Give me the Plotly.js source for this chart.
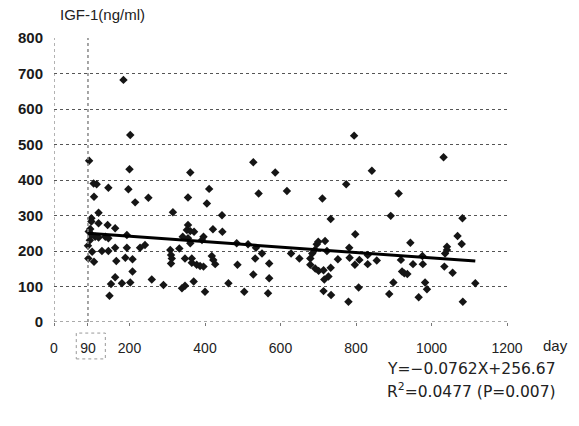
<!DOCTYPE html>
<html><head><meta charset="utf-8">
<script src="https://cdn.plot.ly/plotly-3.0.1.min.js"></script>
<style>html,body{margin:0;padding:0;background:#fff}</style>
</head><body><div id="chart" style="width:579px;height:426px"></div>
<script>
// Patient measurements: day after start vs IGF-1 (ng/ml)
const days = [
  93,105,113,106,118,99,99,118,100,109,118,101,91,106,127,96,92,95,90,
  144,197,215,250,142,162,136,144,193,144,162,193,228,241,165,189,208,208,162,151,180,202,259,147,184,202,200,
  290,361,411,355,405,315,445,355,352,361,371,421,446,341,355,361,396,392,332,308,310,312,310,347,365,365,378,387,396,418,422,427,339,347,370,400,462,
  528,586,542,617,484,514,535,551,533,570,628,650,486,528,570,504,567,
  842,774,711,733,684,691,696,700,718,723,679,679,692,701,714,733,727,716,714,734,752,782,798,783,797,809,831,831,807,780,855,795,
  1032,913,892,944,1041,1041,1036,976,919,951,977,922,928,936,1034,1056,899,983,988,888,966,
  1082,1069,1080,1116,1083
];
const igf = [
  454,390,388,353,308,292,283,278,245,240,238,198,179,170,200,262,255,230,215,
  378,374,337,350,273,264,240,236,245,200,209,209,209,217,172,181,177,142,126,107,109,111,120,74,682,527,430,
  104,421,375,351,334,309,301,273,259,256,254,261,254,240,236,222,240,231,207,203,189,179,165,179,179,167,161,158,156,186,175,163,95,102,114,85,109,
  450,421,362,369,222,219,209,193,179,165,193,179,161,134,123,85,81,
  426,388,348,290,193,203,219,226,228,200,179,161,151,144,146,153,128,120,87,76,177,209,247,181,161,175,189,163,97,57,173,525,
  464,362,299,223,212,203,193,186,175,163,163,142,137,135,156,139,111,111,92,79,70,
  292,242,220,109,57
];
// Regression line end points (Y = -0.0762X + 256.67)
const trendDays = [90, 1116];
const trendIgf = [249.8, 171.6];

const xTickVals = [0, 90, 200, 400, 600, 800, 1000, 1200];
const xTickText = ['0', '90', '200', '400', '600', '800', '1000', '1200'];
const yTickVals = [0, 100, 200, 300, 400, 500, 600, 700, 800];
const yTickText = ['0', '100', '200', '300', '400', '500', '600', '700', '800'];

const yTitle = 'IGF-1(ng/ml)';
const xTitle = 'day';
const eqLine = 'Y=\u22120.0762X+256.67';
const r2Line = 'R<sup>2</sup>=0.0477 (P=0.007)';

const fontFam = '"Liberation Sans", Arial, sans-serif';

const traces = [
  {
    x: days, y: igf, type: 'scatter', mode: 'markers',
    marker: {symbol: 'diamond', size: 6.5, color: '#151515'},
    hoverinfo: 'skip', showlegend: false
  },
  {
    x: trendDays, y: trendIgf, type: 'scatter', mode: 'lines',
    line: {color: '#000', width: 3},
    hoverinfo: 'skip', showlegend: false
  }
];

const layout = {
  width: 579, height: 426,
  margin: {l: 54, r: 72, t: 38, b: 104, pad: 0},
  paper_bgcolor: '#fff', plot_bgcolor: '#fff',
  showlegend: false,
  font: {family: fontFam, color: '#222'},
  xaxis: {
    range: [0, 1200], tickvals: xTickVals, ticktext: xTickText,
    showgrid: false, zeroline: false, showline: false,
    ticks: 'outside', ticklen: 3, tickcolor: '#777', tickwidth: 1,
    tickfont: {family: fontFam, size: 14, color: '#222'},
    ticklabelstandoff: 10
  },
  yaxis: {
    range: [0, 800], tickvals: yTickVals, ticktext: yTickText,
    showgrid: true, gridcolor: '#555', gridwidth: 1, griddash: 'dot',
    zeroline: false, showline: false, ticks: '',
    tickfont: {family: fontFam, size: 15, color: '#1a1a1a', weight: 'bold'},
    ticklabelstandoff: 10
  },
  shapes: [
    {type: 'line', xref: 'x', yref: 'y', x0: 0, x1: 1200, y0: 0, y1: 0,
     line: {color: '#555', width: 1, dash: 'dot'}},
    {type: 'line', xref: 'x', yref: 'y', x0: 0, x1: 0, y0: 0, y1: 800,
     line: {color: '#666', width: 1, dash: 'dot'}},
    {type: 'line', xref: 'x', yref: 'y', x0: 90, x1: 90, y0: 0, y1: 800,
     line: {color: '#888', width: 1.5, dash: 'dot'}},
    {type: 'rect', xref: 'x', yref: 'paper', x0: 59, x1: 136, y0: -0.13, y1: -0.039,
     line: {color: '#999', width: 1, dash: 'dot'}, fillcolor: 'rgba(0,0,0,0)'}
  ],
  annotations: [
    {text: yTitle, xref: 'paper', yref: 'paper', x: 0.009, y: 1.081,
     xanchor: 'left', yanchor: 'middle', showarrow: false,
     font: {family: fontFam, size: 15, color: '#222'}},
    {text: xTitle, xref: 'paper', yref: 'paper', x: 1.106, y: -0.0845,
     xanchor: 'center', yanchor: 'middle', showarrow: false,
     font: {family: fontFam, size: 15, color: '#222'}},
    {text: eqLine, xref: 'paper', yref: 'paper', x: 0.731, y: -0.166,
     xanchor: 'left', yanchor: 'middle', showarrow: false,
     font: {family: '"DejaVu Sans", sans-serif', size: 15.5, color: '#222'}},
    {text: r2Line, xref: 'paper', yref: 'paper', x: 0.731, y: -0.240,
     xanchor: 'left', yanchor: 'middle', showarrow: false,
     font: {family: '"DejaVu Sans", sans-serif', size: 15.5, color: '#222'}}
  ]
};

Plotly.newPlot('chart', traces, layout, {staticPlot: true, displayModeBar: false});
</script></body></html>
